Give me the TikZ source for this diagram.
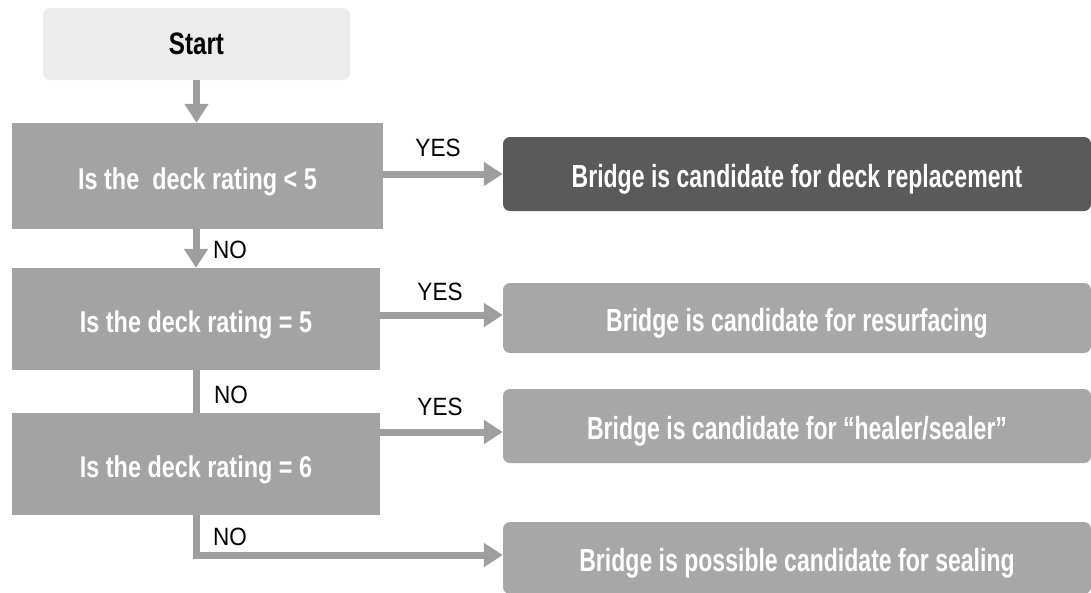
\documentclass[tikz,border=0pt]{standalone}
\usepackage{fontspec}
\setmainfont{Liberation Sans}
\newfontfamily\cond{Liberation Sans}[FakeStretch=0.78]
\newfontfamily\condr{Liberation Sans}[FakeStretch=0.72]
\newfontfamily\condl{Liberation Sans}[FakeStretch=0.9]
\usetikzlibrary{arrows.meta,positioning}
\definecolor{startfill}{HTML}{ECECEC}
\definecolor{qfill}{HTML}{A3A3A3}
\definecolor{rdark}{HTML}{5A5A5A}
\definecolor{rfill}{HTML}{A7A7A7}
\definecolor{arrowgray}{HTML}{9E9E9E}
\tikzset{
  qbox/.style={fill=qfill, inner sep=0pt, text=white, text height=32pt, text depth=6pt, font=\cond\bfseries\fontsize{30}{33}\selectfont},
  rbox/.style={fill=rfill, rounded corners=7pt, inner sep=0pt, text=white, minimum width=588pt, text height=34pt, text depth=6.8pt, font=\condr\bfseries\fontsize{32}{35}\selectfont},
  startbox/.style={fill=startfill, rounded corners=7pt, inner sep=0pt, minimum width=307pt, minimum height=72pt, font=\cond\bfseries\fontsize{31}{34}\selectfont},
  flow/.style={draw=arrowgray, line width=7pt, -{Triangle[width=23pt,length=19pt]}},
  flowline/.style={draw=arrowgray, line width=7pt},
  lbl/.style={font=\condl\fontsize{25}{27}\selectfont, inner sep=0pt}
}
\begin{document}
\begin{tikzpicture}[x=1pt,y=-1pt]
\useasboundingbox[fill=white] (0,0) rectangle (1091,592);
\node[startbox] (start) at (196.5,44) {Start};
\node[qbox, minimum width=371pt, minimum height=106pt] (q1) at (197.5,176) {Is the\ \ deck rating < 5};
\node[qbox, minimum width=368pt, minimum height=102pt] (q2) at (196,319) {Is the deck rating = 5};
\node[qbox, minimum width=368pt, minimum height=102pt] (q3) at (196,464) {Is the deck rating = 6};
\node[rbox, fill=rdark, minimum height=74pt] (r1) at (797,174) {Bridge is candidate for deck replacement};
\node[rbox, minimum height=70pt] (r2) at (797,318) {Bridge is candidate for resurfacing};
\node[rbox, minimum height=74pt] (r3) at (797,426) {Bridge is candidate for “healer/sealer”};
\node[rbox, minimum height=72pt] (r4) at (797,558) {Bridge is possible candidate for sealing};
\draw[flow] (start.south) -- (q1.north -| start.south);
\draw[flow] (q1.south -| q2.north) -- (q2.north);
\draw[flowline] (q2.south) -- (q3.north);
\draw[flow] (q3.south) |- ([yshift=3pt]r4.west);
\draw[flow] (q1.east |- r1.west) -- (r1.west);
\draw[flow] ([yshift=3pt]q2.east |- r2.west) -- ([yshift=3pt]r2.west);
\draw[flow] ([yshift=-6pt]q3.east |- r3.west) -- ([yshift=-6pt]r3.west);
\node[lbl] (yes1) at (438,148) {YES};
\node[lbl] (yes2) at (440,292) {YES};
\node[lbl] (yes3) at (440,407) {YES};
\node[lbl] (no1) at (230,250) {NO};
\node[lbl] (no2) at (231,395) {NO};
\node[lbl] (no3) at (230,537) {NO};
\end{tikzpicture}
\end{document}
